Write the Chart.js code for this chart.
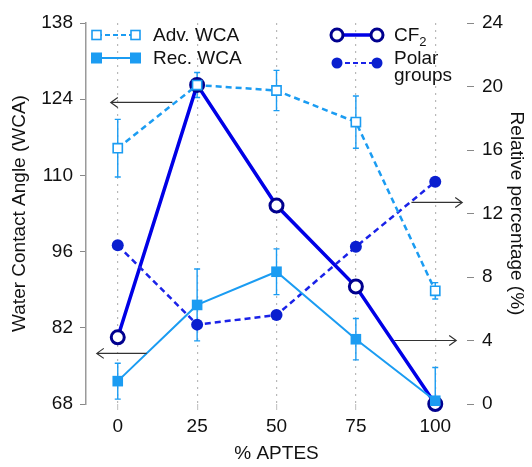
<!DOCTYPE html>
<html>
<head>
<meta charset="utf-8">
<script src="https://cdn.jsdelivr.net/npm/chart.js@4/dist/chart.umd.min.js"></script>
<style>
html,body{margin:0;padding:0;background:#fff;}
#wrap{width:532px;height:467px;}
</style>
</head>
<body>
<div id="wrap"><canvas id="c" width="532" height="467"></canvas></div>
<script>
// ---- data ----
const aptes = [0, 25, 50, 75, 100];
const xTicks = [0, 25, 50, 75, 100];
const leftTicks = [68, 82, 96, 110, 124, 138];
const rightTicks = [0, 4, 8, 12, 16, 20, 24];
const advWCA = [115.0, 126.6, 125.6, 119.8, 88.8];
const advErr = [5.3, 2.3, 3.7, 4.8, 1.5];
const recWCA = [72.2, 86.2, 92.3, 79.9, 68.6];
const recErr = [3.3, 6.6, 4.2, 3.8, 6.1];
const cf2 = [4.2, 20.1, 12.5, 7.4, 0.0];
const polar = [10.0, 5.0, 5.6, 9.9, 14.0];
// annotation arrows: [axis, y, xFrom, xTo]
const arrowAxis = ['yL', 'yL', 'yR', 'yR'];
const arrowY = [123.4, 77.3, 12.7, 4.0];
const arrowFrom = [17.2, 9.1, 92.5, 87.1];
const arrowTo = [-2.2, -6.6, 108.5, 106.6];

const LB = '#1b9cf2', CFC = '#0000e6', CFM = '#00008f', PC = '#0a1fcf', PL = '#1a22e8';
const FONT = '"Liberation Sans", Arial, sans-serif';
const FS = 19;

const pts = (ys) => aptes.map((x, i) => ({x: x, y: ys[i]}));

const errorBars = {
  id: 'errorBars',
  beforeDatasetsDraw(chart) {
    const {ctx, chartArea: a} = chart;
    const xs = chart.scales.x, ys = chart.scales.yL;
    ctx.save();
    ctx.beginPath(); ctx.rect(a.left, a.top, a.right - a.left, a.bottom - a.top); ctx.clip();
    ctx.strokeStyle = LB; ctx.lineWidth = 1.4;
    [[advWCA, advErr], [recWCA, recErr]].forEach(([v, e]) => {
      aptes.forEach((x, i) => {
        const px = xs.getPixelForValue(x);
        const t = ys.getPixelForValue(v[i] + e[i]);
        const b = ys.getPixelForValue(v[i] - e[i]);
        ctx.beginPath();
        ctx.moveTo(px, t); ctx.lineTo(px, b);
        ctx.moveTo(px - 3, t); ctx.lineTo(px + 3, t);
        ctx.moveTo(px - 3, b); ctx.lineTo(px + 3, b);
        ctx.stroke();
      });
    });
    ctx.restore();
  }
};

const extras = {
  id: 'extras',
  afterDraw(chart) {
    const {ctx} = chart;
    const xs = chart.scales.x;
    ctx.save();
    // arrows
    ctx.strokeStyle = '#333'; ctx.lineWidth = 1.2;
    arrowY.forEach((yv, i) => {
      const py = chart.scales[arrowAxis[i]].getPixelForValue(yv);
      const x1 = xs.getPixelForValue(arrowFrom[i]);
      const x2 = xs.getPixelForValue(arrowTo[i]);
      const d = x2 > x1 ? 1 : -1;
      ctx.beginPath();
      ctx.moveTo(x1, py); ctx.lineTo(x2, py);
      ctx.moveTo(x2 - d * 7, py - 5); ctx.lineTo(x2, py); ctx.lineTo(x2 - d * 7, py + 5);
      ctx.stroke();
    });
    // legends
    ctx.font = FS + 'px ' + FONT;
    ctx.fillStyle = '#111';
    ctx.textBaseline = 'middle';
    ctx.textAlign = 'left';
    // Adv. WCA
    let y = 35;
    ctx.strokeStyle = LB; ctx.lineWidth = 2.2; ctx.setLineDash([5, 3]);
    ctx.beginPath(); ctx.moveTo(97, y); ctx.lineTo(136, y); ctx.stroke();
    ctx.setLineDash([]); ctx.lineWidth = 1.6;
    ctx.fillStyle = '#fff';
    [[92, y], [131, y]].forEach(([x, yy]) => { ctx.fillRect(x, yy - 4.5, 9, 9); ctx.strokeRect(x, yy - 4.5, 9, 9); });
    ctx.fillStyle = '#111'; ctx.fillText('Adv. WCA', 153, y + 1);
    // Rec. WCA
    y = 58;
    ctx.strokeStyle = LB; ctx.lineWidth = 2;
    ctx.beginPath(); ctx.moveTo(97, y); ctx.lineTo(136, y); ctx.stroke();
    ctx.fillStyle = LB;
    [[91, y], [130, y]].forEach(([x, yy]) => { ctx.fillRect(x, yy - 5.5, 11, 11); });
    ctx.fillStyle = '#111'; ctx.fillText('Rec. WCA', 153, y + 1);
    // CF2
    y = 35;
    ctx.strokeStyle = CFC; ctx.lineWidth = 3.5;
    ctx.beginPath(); ctx.moveTo(337, y); ctx.lineTo(377, y); ctx.stroke();
    ctx.strokeStyle = CFM; ctx.lineWidth = 3; ctx.fillStyle = '#fff';
    [337, 377].forEach(x => { ctx.beginPath(); ctx.arc(x, y, 6, 0, Math.PI * 2); ctx.fill(); ctx.stroke(); });
    ctx.fillStyle = '#111'; ctx.fillText('CF', 394, y + 1);
    const w = ctx.measureText('CF').width;
    ctx.font = '13px ' + FONT; ctx.fillText('2', 394 + w, y + 7);
    ctx.font = FS + 'px ' + FONT;
    // Polar groups
    y = 63;
    ctx.strokeStyle = PL; ctx.lineWidth = 2.2; ctx.setLineDash([5, 3]);
    ctx.beginPath(); ctx.moveTo(337, y); ctx.lineTo(377, y); ctx.stroke();
    ctx.setLineDash([]);
    ctx.fillStyle = PC;
    [337, 377].forEach(x => { ctx.beginPath(); ctx.arc(x, y, 5.5, 0, Math.PI * 2); ctx.fill(); });
    ctx.fillStyle = '#111';
    ctx.fillText('Polar', 394, 59);
    ctx.fillText('groups', 394, 76);
    ctx.restore();
  }
};

new Chart(document.getElementById('c'), {
  type: 'line',
  data: {
    datasets: [
      {label: 'Adv. WCA', data: pts(advWCA), yAxisID: 'yL', order: 1,
       borderColor: LB, borderWidth: 2.5, borderDash: [6, 4], pointStyle: 'rect',
       pointRadius: 6.5, pointBorderWidth: 1.6, pointBackgroundColor: '#fff', pointBorderColor: LB},
      {label: 'Rec. WCA', data: pts(recWCA), yAxisID: 'yL', order: 2,
       borderColor: LB, borderWidth: 2, pointStyle: 'rect',
       pointRadius: 7.5, pointBorderWidth: 0, pointBackgroundColor: LB, pointBorderColor: LB},
      {label: 'Polar groups', data: pts(polar), yAxisID: 'yR', order: 3,
       borderColor: PL, borderWidth: 2.5, borderDash: [6, 4], pointStyle: 'circle',
       pointRadius: 6, pointBorderWidth: 0, pointBackgroundColor: PC, pointBorderColor: PC},
      {label: 'CF2', data: pts(cf2), yAxisID: 'yR', order: 4,
       borderColor: CFC, borderWidth: 3.5, pointStyle: 'circle',
       pointRadius: 6.5, pointBorderWidth: 3, pointBackgroundColor: '#fff', pointBorderColor: CFM}
    ]
  },
  options: {
    responsive: false,
    animation: false,
    clip: false,
    layout: {padding: {top: 23, left: 0, right: 0, bottom: 0}},
    plugins: {legend: {display: false}, tooltip: {enabled: false}},
    scales: {
      x: {
        type: 'linear', min: -10, max: 110,
        afterBuildTicks: s => { s.ticks = xTicks.map(v => ({value: v})); },
        afterFit: s => { s.height = 63; },
        border: {display: false, dash: [2, 5]},
        grid: {color: '#b8b8b8', lineWidth: 1.2, drawTicks: true, tickLength: 6, tickColor: '#c8c8c8', tickBorderDash: [0, 0]},
        ticks: {font: {size: FS, family: FONT}, color: '#111', padding: 5, maxRotation: 0},
        title: {display: true, text: '% APTES', font: {size: FS, family: FONT}, color: '#111', padding: {top: 0, bottom: 2}}
      },
      yL: {
        type: 'linear', position: 'left', min: 68, max: 138,
        afterBuildTicks: s => { s.ticks = leftTicks.map(v => ({value: v})); },
        afterFit: s => { s.width = 86; },
        border: {display: true, color: '#9a9a9a', width: 1.5},
        grid: {drawOnChartArea: false, drawTicks: true, tickLength: 6, tickColor: '#888'},
        ticks: {font: {size: FS, family: FONT}, color: '#111', padding: 7},
        title: {display: true, text: 'Water Contact Angle (WCA)', font: {size: FS, family: FONT}, color: '#111', padding: {top: 8, bottom: 0}}
      },
      yR: {
        type: 'linear', position: 'right', min: 0, max: 24,
        afterBuildTicks: s => { s.ticks = rightTicks.map(v => ({value: v})); },
        afterFit: s => { s.width = 65; },
        border: {display: false},
        grid: {drawOnChartArea: false, drawTicks: true, tickLength: 7, tickColor: '#888'},
        ticks: {font: {size: FS, family: FONT}, color: '#111', padding: 8},
        title: {display: true, text: 'Relative percentage (%)', font: {size: FS, family: FONT}, color: '#111', padding: {top: 4, bottom: 0}}
      }
    }
  },
  plugins: [errorBars, extras]
});
</script>
</body>
</html>
